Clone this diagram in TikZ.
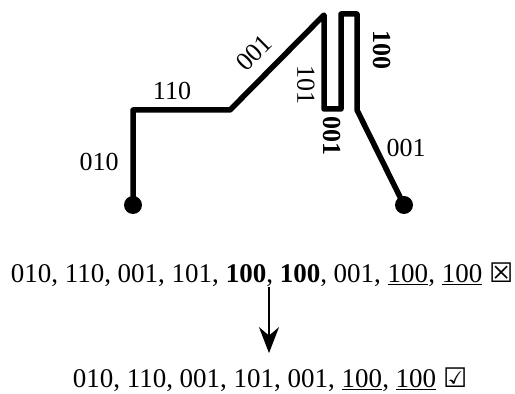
\documentclass[tikz,border=0pt]{standalone}
\usepackage{fontspec}
\setmainfont{Liberation Serif}
\newfontfamily\boxfont{DejaVu Sans}
\usepackage{tikz}
\usetikzlibrary{arrows.meta, positioning, calc}
\tikzset{
  wire/.style={line width=5.5pt, line join=round, color=black},
  pin/.style={circle, fill=black, minimum size=18pt, inner sep=0pt},
  lbl/.style={font=\fontsize{26}{30}\selectfont, inner sep=0pt},
  seq/.style={font=\fontsize{27}{31}\selectfont, anchor=base, inner sep=2pt},
  arrow/.style={-{Stealth[length=26pt, width=20pt]}, line width=2.2pt, color=black}
}

\begin{document}
\begin{tikzpicture}[x=1pt, y=1pt]
  \useasboundingbox (0,0) rectangle (515,394);

  % Wire with its two end pins
  \node[pin] (pinL) at (133,189) {};
  \node[pin] (pinR) at (404,189) {};
  \coordinate (k1) at (133,284);
  \coordinate (k2) at (230,284);
  \coordinate (k3) at (324,379);
  \coordinate (k4) at (324,285);
  \coordinate (k5) at (341,285);
  \coordinate (k6) at (341,380);
  \coordinate (k7) at (357,380);
  \coordinate (k8) at (357,284);
  \draw[wire] (pinL.center) -- (k1) -- (k2) -- (k3) -- (k4) -- (k5)
    -- (k6) -- (k7) -- (k8) -- (pinR.center);

  % Segment codes
  \node[lbl] (c010) at (99,232) {010};
  \node[lbl] (c110) at (172,303) {110};
  \node[lbl, rotate=45] (c001a) at (254,341) {001};
  \node[lbl, rotate=-90] (c101) at (306,309) {101};
  \node[lbl, rotate=-90] (c100) at (382,344) {\textbf{100}};
  \node[lbl, rotate=-90] (c001b) at (332,258) {\textbf{001}};
  \node[lbl] (c001c) at (406,246) {001};

  % Code sequences
  \node[seq] (row1) at (262,111) {010, 110, 001, 101, \textbf{100}, \textbf{100}, 001, \underline{100}, \underline{100} {\boxfont ☒}};
  \node[seq] (row2) at (270,6) {010, 110, 001, 101, 001, \underline{100}, \underline{100} {\boxfont ☑}};
  \coordinate (ax) at (269,0);
  \draw[arrow, shorten <=4pt, shorten >=13pt] (row1.base -| ax) -- (row2.north -| ax);
\end{tikzpicture}
\end{document}
